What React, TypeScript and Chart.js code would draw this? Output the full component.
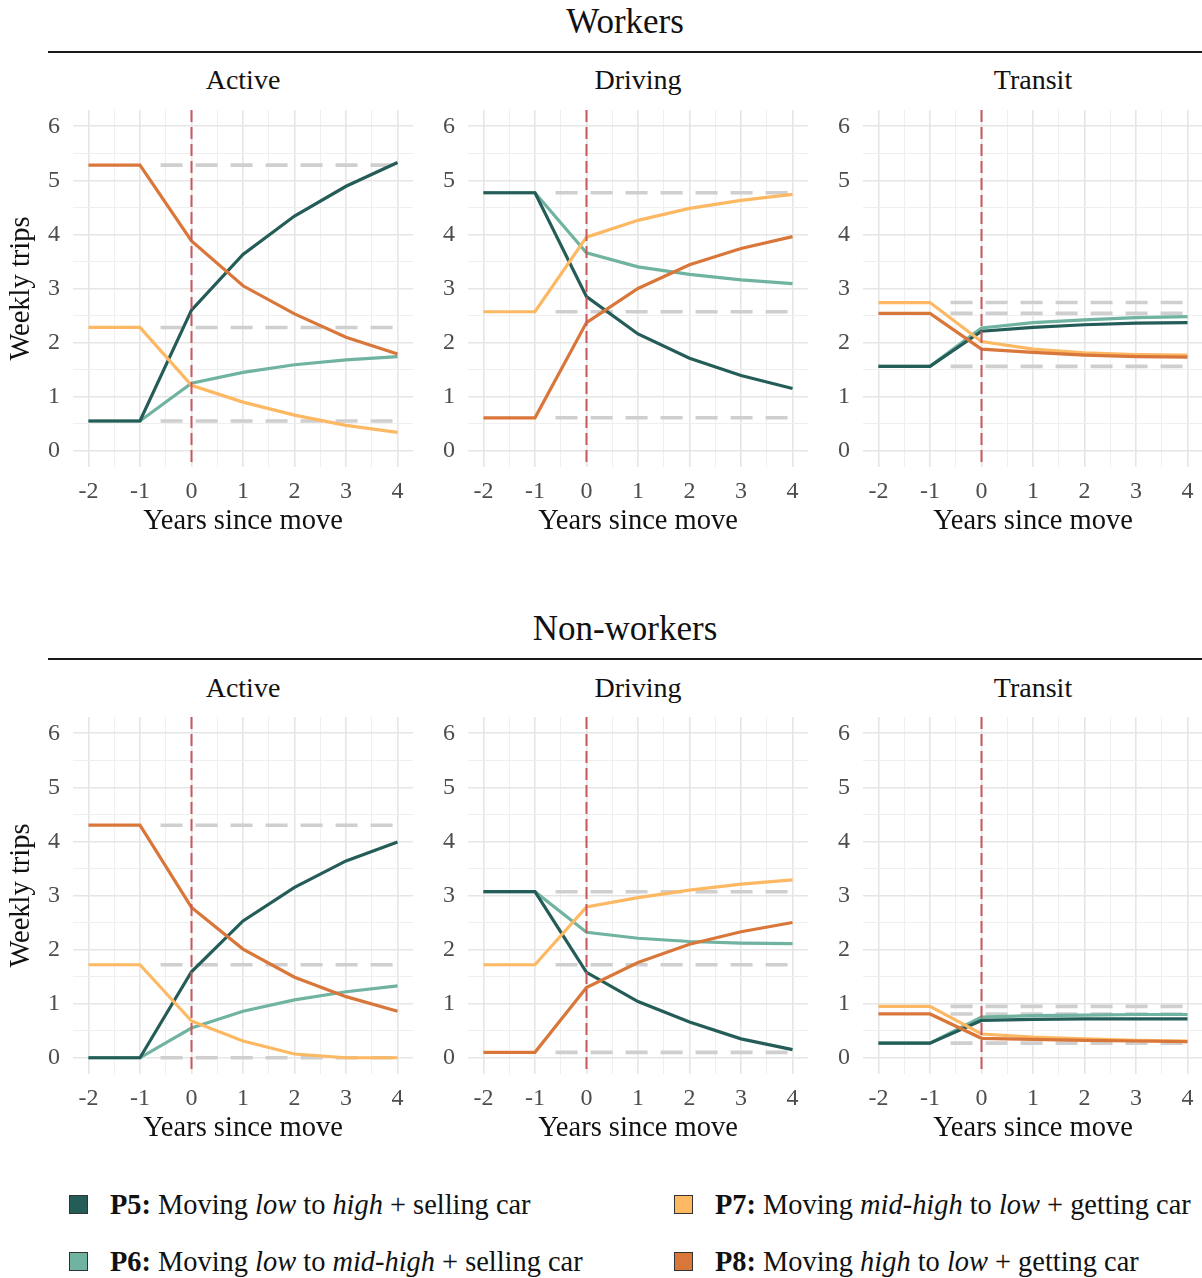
import React, { useEffect, useRef } from "react";
import { Chart, registerables } from "chart.js";

Chart.register(...registerables);

// ---- data -------------------------------------------------------------
const YEARS = [-2, -1, 0, 1, 2, 3, 4];
const X_TICKS = [-2, -1, 0, 1, 2, 3, 4];
const Y_TICKS = [0, 1, 2, 3, 4, 5, 6];
const MOVE_YEAR = 0;
const REF_START = -0.6;
const REF_END = 4;

const SERIES_NAMES = ["P5", "P6", "P7", "P8"];
const SERIES_COLORS = ["#245c58", "#6fb3a0", "#fdb863", "#d9773a"];

// Workers
const W_ACTIVE_P5 = [0.55, 0.55, 2.6, 3.63, 4.34, 4.89, 5.33];
const W_ACTIVE_P6 = [0.55, 0.55, 1.25, 1.45, 1.59, 1.68, 1.74];
const W_ACTIVE_P7 = [2.28, 2.28, 1.21, 0.9, 0.66, 0.47, 0.34];
const W_ACTIVE_P8 = [5.28, 5.28, 3.88, 3.05, 2.53, 2.1, 1.79];

const W_DRIVING_P5 = [4.77, 4.77, 2.85, 2.16, 1.71, 1.39, 1.15];
const W_DRIVING_P6 = [4.77, 4.77, 3.66, 3.4, 3.26, 3.16, 3.09];
const W_DRIVING_P7 = [2.57, 2.57, 3.95, 4.26, 4.48, 4.63, 4.74];
const W_DRIVING_P8 = [0.61, 0.61, 2.37, 3.0, 3.44, 3.74, 3.96];

const W_TRANSIT_P5 = [1.56, 1.56, 2.21, 2.28, 2.33, 2.36, 2.37];
const W_TRANSIT_P6 = [1.56, 1.56, 2.27, 2.37, 2.42, 2.46, 2.48];
const W_TRANSIT_P7 = [2.74, 2.74, 2.02, 1.88, 1.81, 1.78, 1.77];
const W_TRANSIT_P8 = [2.54, 2.54, 1.88, 1.82, 1.77, 1.74, 1.73];

// Non-workers
const N_ACTIVE_P5 = [0, 0, 1.59, 2.53, 3.15, 3.64, 3.99];
const N_ACTIVE_P6 = [0, 0, 0.55, 0.86, 1.07, 1.22, 1.33];
const N_ACTIVE_P7 = [1.72, 1.72, 0.68, 0.31, 0.07, 0, 0];
const N_ACTIVE_P8 = [4.3, 4.3, 2.78, 2.01, 1.49, 1.13, 0.86];

const N_DRIVING_P5 = [3.07, 3.07, 1.58, 1.04, 0.66, 0.35, 0.15];
const N_DRIVING_P6 = [3.07, 3.07, 2.32, 2.21, 2.15, 2.12, 2.11];
const N_DRIVING_P7 = [1.72, 1.72, 2.79, 2.96, 3.1, 3.21, 3.29];
const N_DRIVING_P8 = [0.1, 0.1, 1.3, 1.76, 2.1, 2.33, 2.5];

const N_TRANSIT_P5 = [0.27, 0.27, 0.69, 0.71, 0.72, 0.72, 0.72];
const N_TRANSIT_P6 = [0.27, 0.27, 0.75, 0.78, 0.79, 0.8, 0.8];
const N_TRANSIT_P7 = [0.95, 0.95, 0.44, 0.38, 0.35, 0.32, 0.31];
const N_TRANSIT_P8 = [0.81, 0.81, 0.36, 0.34, 0.32, 0.31, 0.3];

const MODES = ["Active", "Driving", "Transit"];
const GROUPS = ["Workers", "Non-workers"];

const GROUP_DATA = [
  [
    [W_ACTIVE_P5, W_ACTIVE_P6, W_ACTIVE_P7, W_ACTIVE_P8],
    [W_DRIVING_P5, W_DRIVING_P6, W_DRIVING_P7, W_DRIVING_P8],
    [W_TRANSIT_P5, W_TRANSIT_P6, W_TRANSIT_P7, W_TRANSIT_P8],
  ],
  [
    [N_ACTIVE_P5, N_ACTIVE_P6, N_ACTIVE_P7, N_ACTIVE_P8],
    [N_DRIVING_P5, N_DRIVING_P6, N_DRIVING_P7, N_DRIVING_P8],
    [N_TRANSIT_P5, N_TRANSIT_P6, N_TRANSIT_P7, N_TRANSIT_P8],
  ],
];

// ---- layout -----------------------------------------------------------
const FONT = "'Liberation Serif', 'Times New Roman', serif";
const PLOT_LEFTS = [73, 468, 863];
const PLOT_W = 340;
const PLOT_H = 357;
const ROW_PLOT_TOPS = [110, 717];
const ROW_TITLE_Y = [21, 628];
const ROW_RULE_Y = [51, 658];
const STRIP_Y = [80, 688];
const X_AXIS_H = 72;
const FIRST_Y_AXIS_W = 73;
const OTHER_Y_AXIS_W = 50;

const GRID_MAJOR = "#e6e6e6";
const GRID_MINOR = "#efefef";
const TICK_COLOR = "#4d4d4d";
const REF_COLOR = "#cfcfcf";
const MOVE_COLOR = "#c9585c";

// ticks at every half unit give the minor grid; only whole units get labels
const halfSteps = (vals: number[]) => {
  const out: number[] = [];
  for (let i = 0; i < vals.length; i++) {
    out.push(vals[i]);
    if (i < vals.length - 1) out.push((vals[i] + vals[i + 1]) / 2);
  }
  return out;
};

const moveLinePlugin = {
  id: "moveLine",
  afterDatasetsDraw(chart: any) {
    const { ctx, chartArea, scales } = chart;
    const x = scales.x.getPixelForValue(MOVE_YEAR);
    ctx.save();
    ctx.strokeStyle = MOVE_COLOR;
    ctx.lineWidth = 2;
    ctx.setLineDash([12, 5]);
    ctx.beginPath();
    ctx.moveTo(x, chartArea.top);
    ctx.lineTo(x, chartArea.bottom);
    ctx.stroke();
    ctx.restore();
  },
};

function Panel(props: {
  left: number;
  top: number;
  yAxisW: number;
  series: number[][];
  showYTitle: boolean;
}) {
  const { left, top, yAxisW, series, showYTitle } = props;
  const ref = useRef<HTMLCanvasElement | null>(null);
  const width = yAxisW + PLOT_W;
  const height = PLOT_H + X_AXIS_H;

  useEffect(() => {
    if (!ref.current) return;
    const baselines = Array.from(new Set(series.map((s) => s[0])));
    const refSets = baselines.map((b) => ({
      data: [
        { x: REF_START, y: b },
        { x: REF_END, y: b },
      ],
      borderColor: REF_COLOR,
      borderWidth: 3.6,
      borderDash: [22, 13],
      pointRadius: 0,
      order: 10,
    }));
    // drawing priority: lower order is painted on top
    const orderOf = [3, 4, 2, 1];
    const lineSets = series.map((vals, i) => ({
      label: SERIES_NAMES[i],
      data: YEARS.map((x, j) => ({ x, y: vals[j] })),
      borderColor: SERIES_COLORS[i],
      borderWidth: 3.2,
      pointRadius: 0,
      tension: 0,
      order: orderOf[i],
    }));

    const gridColor = (c: any) =>
      c.tick && Number.isInteger(c.tick.value) ? GRID_MAJOR : GRID_MINOR;
    const gridWidth = (c: any) =>
      c.tick && Number.isInteger(c.tick.value) ? 1.6 : 1;
    const label = (v: any) => (Number.isInteger(v) ? String(v) : "");

    const chart = new Chart(ref.current, {
      type: "line",
      data: { datasets: [...refSets, ...lineSets] as any },
      options: {
        animation: false,
        responsive: false,
        maintainAspectRatio: false,
        devicePixelRatio: 1,
        layout: { padding: 0 },
        plugins: {
          legend: { display: false },
          tooltip: { enabled: false },
          title: { display: false },
        },
        scales: {
          x: {
            type: "linear",
            min: -2.3,
            max: 4.3,
            afterBuildTicks: (axis: any) => {
              axis.ticks = halfSteps(X_TICKS).map((v) => ({ value: v }));
            },
            afterFit: (axis: any) => {
              axis.height = X_AXIS_H;
              axis.paddingLeft = 0;
              axis.paddingRight = 0;
            },
            border: { display: false },
            grid: { drawTicks: false, color: gridColor, lineWidth: gridWidth },
            ticks: {
              autoSkip: false,
              maxRotation: 0,
              minRotation: 0,
              padding: 10,
              color: TICK_COLOR,
              font: { family: FONT, size: 24 },
              callback: label,
            },
            title: {
              display: true,
              text: "Years since move",
              color: "#111111",
              font: { family: FONT, size: 28.5, lineHeight: 1.2 },
              padding: { top: 0, bottom: 0 },
            },
          },
          y: {
            type: "linear",
            min: -0.3,
            max: 6.3,
            afterBuildTicks: (axis: any) => {
              axis.ticks = halfSteps(Y_TICKS).map((v) => ({ value: v }));
            },
            afterFit: (axis: any) => {
              axis.width = yAxisW;
              axis.paddingTop = 0;
              axis.paddingBottom = 0;
            },
            border: { display: false },
            grid: { drawTicks: false, color: gridColor, lineWidth: gridWidth },
            ticks: {
              autoSkip: false,
              padding: 13,
              color: TICK_COLOR,
              font: { family: FONT, size: 24 },
              callback: label,
            },
            title: {
              display: showYTitle,
              text: "Weekly trips",
              color: "#111111",
              font: { family: FONT, size: 28.5, lineHeight: 1.2 },
              padding: { top: 4, bottom: 0 },
            },
          },
        },
      } as any,
      plugins: [moveLinePlugin],
    });
    return () => chart.destroy();
  }, []);

  return (
    <canvas
      ref={ref}
      width={width}
      height={height}
      style={{ position: "absolute", left, top, width, height }}
    />
  );
}

function CenteredText(props: {
  x: number;
  y: number;
  size: number;
  children: React.ReactNode;
}) {
  return (
    <div
      style={{
        position: "absolute",
        left: props.x,
        top: props.y,
        transform: "translate(-50%, -50%)",
        fontFamily: FONT,
        fontSize: props.size,
        lineHeight: 1,
        color: "#111",
        whiteSpace: "nowrap",
      }}
    >
      {props.children}
    </div>
  );
}

const LEGEND_ITEMS = [
  { key: 0, x: 69, y: 1205, body: (<><b>P5:</b> Moving <i>low</i> to <i>high</i> + selling car</>) },
  { key: 1, x: 69, y: 1262, body: (<><b>P6:</b> Moving <i>low</i> to <i>mid-high</i> + selling car</>) },
  { key: 2, x: 674, y: 1205, body: (<><b>P7:</b> Moving <i>mid-high</i> to <i>low</i> + getting car</>) },
  { key: 3, x: 674, y: 1262, body: (<><b>P8:</b> Moving <i>high</i> to <i>low</i> + getting car</>) },
];

export default function App() {
  return (
    <div
      style={{
        position: "absolute",
        left: 0,
        top: 0,
        width: 1202,
        height: 1278,
        overflow: "hidden",
        background: "#ffffff",
      }}
    >
      {GROUPS.map((g, gi) => (
        <React.Fragment key={g}>
          <CenteredText x={625} y={ROW_TITLE_Y[gi]} size={35}>
            {g}
          </CenteredText>
          <div
            style={{
              position: "absolute",
              left: 48,
              top: ROW_RULE_Y[gi],
              width: 1154,
              height: 1.5,
              background: "#1a1a1a",
            }}
          />
          {MODES.map((m, mi) => (
            <React.Fragment key={m}>
              <CenteredText x={PLOT_LEFTS[mi] + PLOT_W / 2} y={STRIP_Y[gi]} size={28}>
                {m}
              </CenteredText>
              <Panel
                left={PLOT_LEFTS[mi] - (mi === 0 ? FIRST_Y_AXIS_W : OTHER_Y_AXIS_W)}
                top={ROW_PLOT_TOPS[gi]}
                yAxisW={mi === 0 ? FIRST_Y_AXIS_W : OTHER_Y_AXIS_W}
                series={GROUP_DATA[gi][mi]}
                showYTitle={mi === 0}
              />
            </React.Fragment>
          ))}
        </React.Fragment>
      ))}
      {LEGEND_ITEMS.map((it) => (
        <React.Fragment key={it.key}>
          <div
            style={{
              position: "absolute",
              left: it.x,
              top: it.y - 10,
              width: 17,
              height: 17,
              background: SERIES_COLORS[it.key],
              border: "1.5px solid #333",
            }}
          />
          <div
            style={{
              position: "absolute",
              left: it.x + 41,
              top: it.y,
              transform: "translateY(-50%)",
              fontFamily: FONT,
              fontSize: 28.4,
              lineHeight: 1,
              color: "#111",
              whiteSpace: "nowrap",
            }}
          >
            {it.body}
          </div>
        </React.Fragment>
      ))}
    </div>
  );
}
